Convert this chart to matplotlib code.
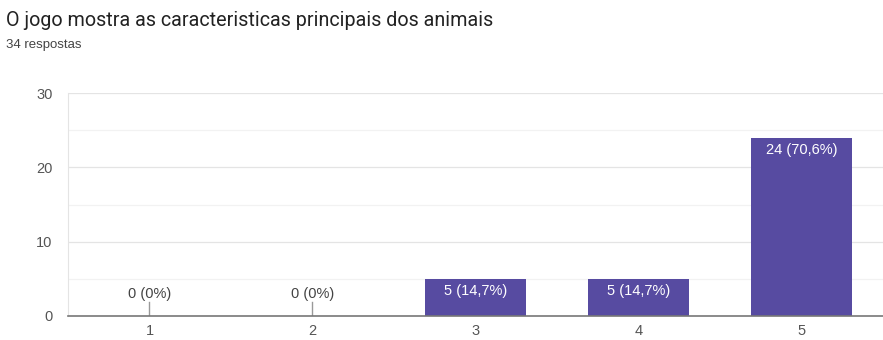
import matplotlib
matplotlib.use("Agg")
import matplotlib.pyplot as plt

categories = ["1", "2", "3", "4", "5"]
counts = [0, 0, 5, 5, 24]
labels = ["0 (0%)", "0 (0%)", "5 (14,7%)", "5 (14,7%)", "24 (70,6%)"]
yticks = [0, 10, 20, 30]

title = "O jogo mostra as caracteristicas principais dos animais"
subtitle = "34 respostas"

plt.rcParams["font.family"] = ["Liberation Sans", "DejaVu Sans"]

fig = plt.figure(figsize=(8.83, 3.4), dpi=100)
ax = fig.add_axes([0.077, 0.071, 0.923, 0.655])

bar_color = "#574ba1"
x = list(range(len(categories)))
ax.bar(x, counts, width=0.62, color=bar_color, zorder=3)

for xi, c, lab in zip(x, counts, labels):
    if c > 0:
        ax.text(xi, c - 0.7, lab, ha="center", va="top", color="white",
                fontsize=10.5, zorder=4)
    else:
        ax.plot([xi, xi], [0, 1.9], color="#999999", lw=1, zorder=4)
        ax.text(xi, 1.95, lab, ha="center", va="bottom", color="#444444",
                fontsize=10.5, zorder=4)

ax.set_xlim(-0.5, 4.5)
ax.set_ylim(0, 30)
ax.set_yticks(yticks)
ax.set_yticks([5, 15, 25], minor=True)
ax.set_xticks(x)
ax.set_xticklabels(categories)
ax.grid(axis="y", which="major", color="#e4e4e4", lw=0.9, zorder=0)
ax.grid(axis="y", which="minor", color="#f2f2f2", lw=0.9, zorder=0)
ax.tick_params(axis="both", which="both", length=0, colors="#555555",
               labelsize=10.5)
ax.tick_params(axis="y", pad=11)
ax.tick_params(axis="x", pad=6)
for side in ["top", "right"]:
    ax.spines[side].set_visible(False)
ax.spines["left"].set_color("#e4e4e4")
ax.spines["bottom"].set_color("#777777")
ax.spines["bottom"].set_linewidth(1.2)
ax.spines["bottom"].set_zorder(5)

fig.text(0.007, 0.94, title, fontsize=14.2, color="#222222", va="center",
         family=["Roboto", "DejaVu Sans"])
fig.text(0.007, 0.868, subtitle, fontsize=9.5, color="#444444", va="center")

fig.savefig("out.png", dpi=100)
